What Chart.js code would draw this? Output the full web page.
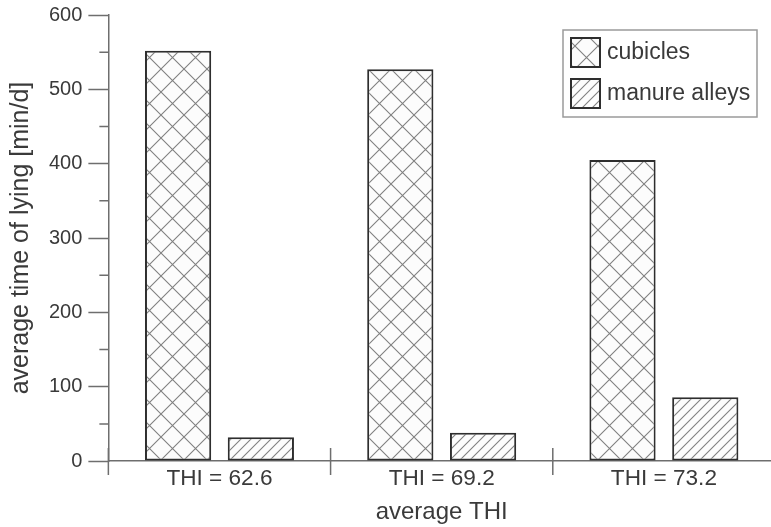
<!DOCTYPE html>
<html>
<head>
<meta charset="utf-8">
<script src="https://cdn.jsdelivr.net/npm/chart.js@4.4.1/dist/chart.umd.min.js"></script>
<style>
  html, body { margin: 0; padding: 0; background: #fff; overflow: hidden; }
  #wrap { width: 780px; height: 527px; }
</style>
</head>
<body>
<div id="wrap"><canvas id="lyingChart"></canvas></div>
<script>
// categories and values
const categories = ["THI = 62.6", "THI = 69.2", "THI = 73.2"];
const cubicles = [552, 527, 405];
const manureAlleys = [32, 38, 86];
const seriesNames = ["cubicles", "manure alleys"];

const FONT = "'Liberation Sans', Arial, sans-serif";
const TEXT = "#3a3a3a";
const AXIS = "#6e6e6e";
const EDGE = "#2e2e2e";
const HATCH = "#808080";

// crosshatch fill
function crossPattern() {
  const s = 23;
  const c = document.createElement("canvas");
  c.width = s; c.height = s;
  const g = c.getContext("2d");
  g.fillStyle = "#fcfcfc";
  g.fillRect(0, 0, s, s);
  g.strokeStyle = HATCH;
  g.lineWidth = 1.1;
  g.beginPath();
  g.moveTo(0, 0); g.lineTo(s, s);
  g.moveTo(s, 0); g.lineTo(0, s);
  g.stroke();
  return g.createPattern(c, "repeat");
}

// single diagonal hatch
function diagPattern() {
  const s = 10;
  const c = document.createElement("canvas");
  c.width = s; c.height = s;
  const g = c.getContext("2d");
  g.fillStyle = "#fcfcfc";
  g.fillRect(0, 0, s, s);
  g.strokeStyle = HATCH;
  g.lineWidth = 1.1;
  g.beginPath();
  g.moveTo(-1, s + 1); g.lineTo(s + 1, -1);
  g.moveTo(-1, 1); g.lineTo(1, -1);
  g.moveTo(s - 1, s + 1); g.lineTo(s + 1, s - 1);
  g.stroke();
  return g.createPattern(c, "repeat");
}

const fills = [crossPattern(), diagPattern()];

// short minor ticks on y, category separators on x
const axisMarks = {
  id: "axisMarks",
  afterDraw(chart) {
    const { ctx, scales: { x, y } } = chart;
    ctx.save();
    ctx.strokeStyle = AXIS;
    ctx.lineWidth = 1.5;
    ctx.beginPath();
    y.ticks.forEach((t) => {
      if (t.value % 100 !== 0) {
        const py = y.getPixelForValue(t.value);
        ctx.moveTo(x.left - 9, py);
        ctx.lineTo(x.left, py);
      }
    });
    for (let i = 0; i <= categories.length; i++) {
      const px = x.getPixelForDecimal(i / categories.length);
      ctx.moveTo(px, y.bottom - 13);
      ctx.lineTo(px, y.bottom + 14);
    }
    ctx.stroke();
    ctx.restore();
  },
};

// boxed legend in the upper right corner
const boxLegend = {
  id: "boxLegend",
  afterDraw(chart) {
    const { ctx, chartArea } = chart;
    const right = chartArea.right - 18;
    const left = right - 194;
    const top = chartArea.top + 15;
    const rowH = 41;
    ctx.save();
    ctx.strokeStyle = "#9a9a9a";
    ctx.lineWidth = 1.5;
    ctx.strokeRect(left, top, right - left, 87);
    chart.data.datasets.forEach((ds, i) => {
      const sy = top + 8 + i * rowH;
      ctx.fillStyle = ds.backgroundColor;
      ctx.fillRect(left + 8, sy, 29, 29);
      ctx.strokeStyle = EDGE;
      ctx.lineWidth = 2;
      ctx.strokeRect(left + 8, sy, 29, 29);
      ctx.fillStyle = TEXT;
      ctx.font = "23px " + FONT;
      ctx.textBaseline = "middle";
      ctx.fillText(ds.label, left + 44, sy + 15);
    });
    ctx.restore();
  },
};

const ctx = document.getElementById("lyingChart").getContext("2d");
new Chart(ctx, {
  type: "bar",
  data: {
    labels: categories,
    datasets: [
      {
        label: seriesNames[0],
        data: cubicles,
        backgroundColor: fills[0],
        borderColor: EDGE,
        borderWidth: 2,
        borderSkipped: false,
      },
      {
        label: seriesNames[1],
        data: manureAlleys,
        backgroundColor: fills[1],
        borderColor: EDGE,
        borderWidth: 2,
        borderSkipped: false,
      },
    ],
  },
  options: {
    responsive: true,
    maintainAspectRatio: false,
    animation: false,
    categoryPercentage: 0.745,
    barPercentage: 0.8,
    layout: { padding: { left: 2, right: 5, top: 10, bottom: 0 } },
    plugins: {
      legend: { display: false },
      tooltip: { enabled: false },
    },
    scales: {
      x: {
        grid: { display: false, drawTicks: false },
        border: { display: true, color: AXIS, width: 1.5 },
        ticks: { color: TEXT, font: { family: FONT, size: 22.6 }, padding: 4 },
        title: {
          display: true,
          text: "average THI",
          color: TEXT,
          font: { family: FONT, size: 24 },
          padding: { top: 2, bottom: 0 },
        },
      },
      y: {
        min: 0,
        max: 600,
        grid: {
          drawOnChartArea: false,
          drawTicks: true,
          tickLength: 20,
          tickWidth: 1.5,
          tickColor: (c) => (c.tick && c.tick.value % 100 === 0 ? AXIS : "rgba(0,0,0,0)"),
        },
        border: { display: true, color: AXIS, width: 1.5 },
        ticks: {
          stepSize: 50,
          padding: 6,
          color: TEXT,
          font: { family: FONT, size: 20, lineHeight: 0.9 },
          callback: (v) => (v % 100 === 0 ? v : ""),
        },
        title: {
          display: true,
          text: "average time of lying [min/d]",
          color: TEXT,
          font: { family: FONT, size: 25 },
          padding: { top: 4, bottom: 7 },
        },
      },
    },
  },
  plugins: [axisMarks, boxLegend],
});
</script>
</body>
</html>
